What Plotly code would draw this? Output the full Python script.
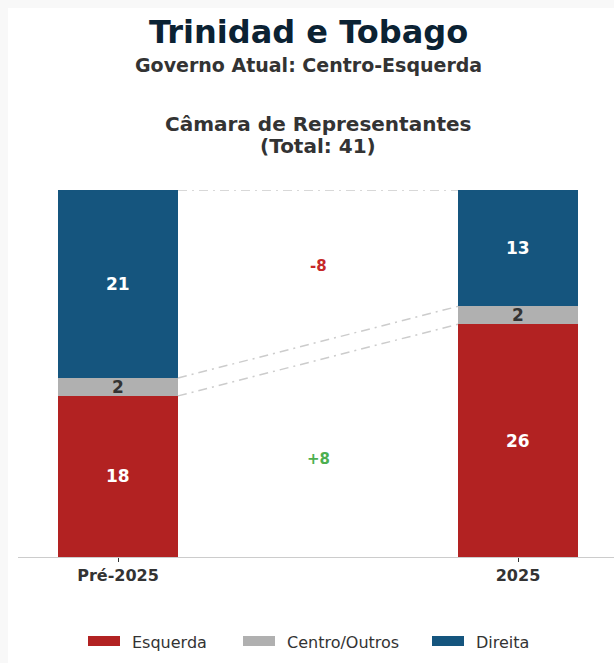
import plotly.graph_objects as go

# Seat counts per bloc, before and after the 2025 election
periods = ["Pré-2025", "2025"]
blocs = ["Esquerda", "Centro/Outros", "Direita"]
esquerda = [18, 26]
centro = [2, 2]
direita = [21, 13]
total_seats = 41

colors = {"Esquerda": "#b22222", "Centro/Outros": "#b0b0b0", "Direita": "#15557e"}
label_colors = {"Esquerda": "white", "Centro/Outros": "#333333", "Direita": "white"}
series = {"Esquerda": esquerda, "Centro/Outros": centro, "Direita": direita}

FONT = "DejaVu Sans"
W, H = 614, 663
L, R, T, B = 18, 0, 190, 106
plot_w = W - L - R
plot_h = H - T - B


def px_x(px):
    return (px - L) / plot_w


def px_y(py):
    return (H - B - py) / plot_h


bar_w = 0.3
xs = [0, 1]

fig = go.Figure()

# stacked bars
for b in blocs:
    fig.add_trace(go.Bar(
        x=xs, y=series[b], name=b, width=bar_w,
        marker=dict(color=colors[b], line=dict(width=0)),
        showlegend=False, hoverinfo="skip",
    ))

# connectors between cumulative levels of the two bars
cum_levels = []
run = [0, 0]
for b in blocs:
    run = [run[i] + series[b][i] for i in range(2)]
    cum_levels.append(list(run))
for lv in cum_levels:
    fig.add_trace(go.Scatter(
        x=[xs[0] + bar_w / 2, xs[1] - bar_w / 2], y=lv, mode="lines",
        line=dict(color="#cccccc", width=1.5, dash="9px,5px,2px,5px"),
        showlegend=False, hoverinfo="skip", cliponaxis=False,
    ))

annotations = []

# value labels in the middle of each segment
base = [0, 0]
for b in blocs:
    for i in range(2):
        v = series[b][i]
        annotations.append(dict(
            x=xs[i], y=base[i] + v / 2, xref="x", yref="y", text=f"<b>{v}</b>",
            showarrow=False, font=dict(family=FONT, size=17, color=label_colors[b]),
        ))
    base = [base[i] + series[b][i] for i in range(2)]

# change labels between the bars
mids = {}
base = [0, 0]
for b in blocs:
    mids[b] = [base[i] + series[b][i] / 2 for i in range(2)]
    base = [base[i] + series[b][i] for i in range(2)]
for b, col in (("Direita", "#c62828"), ("Esquerda", "#4caf50")):
    d = series[b][1] - series[b][0]
    annotations.append(dict(
        x=0.5, y=sum(mids[b]) / 2, xref="x", yref="y", text=f"<b>{d:+d}</b>",
        showarrow=False, font=dict(family=FONT, size=15, color=col),
    ))

# titles
annotations.append(dict(
    x=px_x(308), y=px_y(32), xref="paper", yref="paper", text="<b>Trinidad e Tobago</b>",
    showarrow=False, font=dict(family=FONT, size=32, color="#0b2233"),
    xanchor="center", yanchor="middle",
))
annotations.append(dict(
    x=px_x(308), y=px_y(65), xref="paper", yref="paper",
    text="<b>Governo Atual: Centro-Esquerda</b>",
    showarrow=False, font=dict(family=FONT, size=19, color="#333333"),
    xanchor="center", yanchor="middle",
))
for line, ypx in (("Câmara de Representantes", 124), (f"(Total: {total_seats})", 146)):
    annotations.append(dict(
        x=px_x(318), y=px_y(ypx), xref="paper", yref="paper",
        text=f"<b>{line}</b>",
        showarrow=False, font=dict(family=FONT, size=20, color="#333333"),
        xanchor="center", yanchor="middle",
    ))

shapes = [
    # white card over the light grey page
    dict(type="rect", xref="paper", yref="paper", layer="below",
         x0=px_x(8), x1=px_x(W + 20), y0=px_y(H + 20), y1=px_y(8),
         fillcolor="white", line=dict(width=0)),
]

# legend row
leg_y = 641
swatch_x = [88, 243, 432]
for b, sx in zip(blocs, swatch_x):
    shapes.append(dict(
        type="rect", xref="paper", yref="paper",
        x0=px_x(sx), x1=px_x(sx + 32), y0=px_y(leg_y + 5), y1=px_y(leg_y - 5),
        fillcolor=colors[b], line=dict(width=0),
    ))
    annotations.append(dict(
        x=px_x(sx + 42), y=px_y(leg_y + 1), xref="paper", yref="paper", text=b,
        showarrow=False, font=dict(family=FONT, size=16, color="#333333"),
        xanchor="left", yanchor="middle",
    ))

fig.update_layout(
    barmode="stack",
    width=W, height=H,
    margin=dict(l=L, r=R, t=T, b=B, pad=0),
    paper_bgcolor="#f8f8f8",
    plot_bgcolor="rgba(0,0,0,0)",
    showlegend=False,
    annotations=annotations,
    shapes=shapes,
    font=dict(family=FONT, color="#333333"),
)
fig.update_xaxes(
    range=[-0.25, 1.24], tickvals=xs, ticktext=[f"<b>{p}</b>" for p in periods],
    tickfont=dict(family=FONT, size=16, color="#333333"),
    showline=True, linecolor="#cccccc", linewidth=1,
    ticks="outside", ticklen=4, tickcolor="#333333", showgrid=False, zeroline=False,
)
fig.update_yaxes(range=[0, total_seats], visible=False, showgrid=False, zeroline=False)

fig.write_html("out.html")
